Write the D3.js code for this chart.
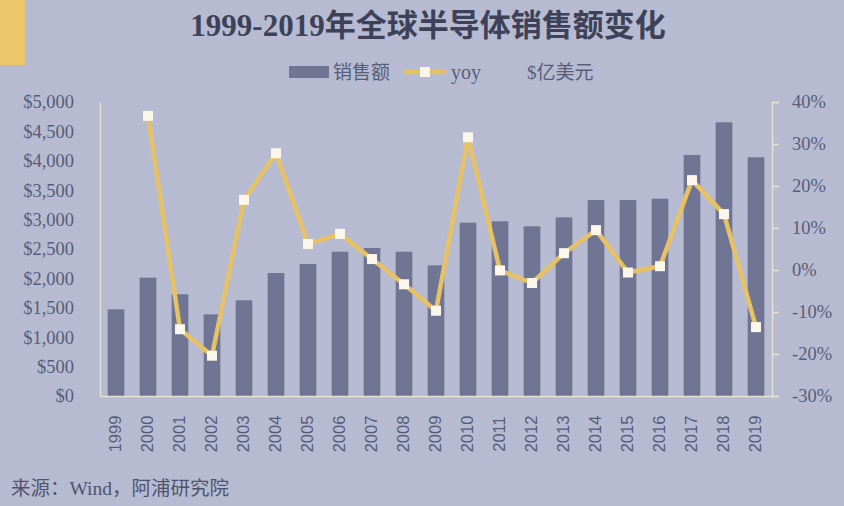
<!DOCTYPE html>
<html><head><meta charset="utf-8">
<script src="https://cdn.jsdelivr.net/npm/d3@7"></script>
<style>
html,body{margin:0;padding:0;background:#b6bbd1;}
svg{display:block;}
</style></head>
<body>
<svg id="chart" width="844" height="506"></svg>
<script>
const years = ["1999","2000","2001","2002","2003","2004","2005","2006","2007","2008","2009","2010","2011","2012","2013","2014","2015","2016","2017","2018","2019"];
const sales = [1474,2012,1730,1389,1628,2092,2245,2454,2517,2454,2222,2948,2971,2886,3039,3333,3333,3356,4099,4655,4060];
const yoy = [null,36.7,-14.1,-20.4,16.7,27.8,6.2,8.6,2.6,-3.4,-9.7,31.6,-0.1,-3.1,4.0,9.5,-0.6,0.9,21.4,13.3,-13.6];
const leftTicks = [0,500,1000,1500,2000,2500,3000,3500,4000,4500,5000];
const rightTicks = [-30,-20,-10,0,10,20,30,40];
const titleText = "1999-2019年全球半导体销售额变化";
const sourceText = "来源：Wind，阿浦研究院";

const svg = d3.select("#chart");
const W = 844, H = 506;
const x0 = 100, x1 = 772, yTop = 102, yBot = 396;
const txt = "#585d77";
const axisCol = "#e6e1d2";

svg.append("rect").attr("width",W).attr("height",H).attr("fill","#b6bbd1");
svg.append("rect").attr("x",0).attr("y",0).attr("width",25).attr("height",65).attr("fill","#ecc66a");

svg.append("text").attr("x",428).attr("y",36).attr("text-anchor","middle")
  .attr("font-family","'Liberation Serif','Noto Sans CJK SC',serif").attr("font-weight","bold")
  .attr("font-size",31).attr("fill","#3e4258").text(titleText);

const x = d3.scaleBand().domain(years).range([x0,x1]).paddingInner(0.48).paddingOuter(0.24);
const yL = d3.scaleLinear().domain([0,5000]).range([yBot,yTop]);
const yR = d3.scaleLinear().domain([-30,40]).range([yBot,yTop]);

// bars
svg.append("g").selectAll("rect").data(years).join("rect")
  .attr("x",d=>x(d)).attr("width",x.bandwidth())
  .attr("y",(d,i)=>yL(sales[i])).attr("height",(d,i)=>yBot-yL(sales[i]))
  .attr("fill","#6f7592");

// left axis
const gL = svg.append("g").attr("transform",`translate(${x0},0)`)
  .call(d3.axisLeft(yL).tickValues(leftTicks).tickSize(0).tickPadding(26).tickFormat(d=>"$"+d3.format(",")(d)));
gL.select(".domain").attr("stroke",axisCol).attr("stroke-width",1.5);
gL.selectAll("text").attr("font-family","'Liberation Serif',serif").attr("font-size",18.5).attr("fill",txt);

// right axis
const gR = svg.append("g").attr("transform",`translate(${x1},0)`)
  .call(d3.axisRight(yR).tickValues(rightTicks).tickSize(7).tickPadding(13).tickFormat(d=>d+"%"));
gR.select(".domain").attr("stroke",axisCol).attr("stroke-width",1.5);
gR.selectAll(".tick line").attr("stroke",axisCol).attr("stroke-width",1.5);
gR.selectAll("text").attr("font-family","'Liberation Serif',serif").attr("font-size",18.5).attr("fill",txt);

// bottom axis
const gB = svg.append("g").attr("transform",`translate(0,${yBot})`)
  .call(d3.axisBottom(x).tickSize(0).tickPadding(0));
gB.select(".domain").attr("stroke",axisCol).attr("stroke-width",1.5);
gB.selectAll(".tick text").attr("transform","translate(-1,38) rotate(-90)")
  .attr("text-anchor","middle").attr("dy","0.35em")
  .attr("font-family","'Liberation Sans',sans-serif").attr("font-size",16.5).attr("fill",txt);

// line
const pts = years.map((d,i)=>({d, v:yoy[i]})).filter(p=>p.v!==null);
const line = d3.line().x(p=>x(p.d)+x.bandwidth()/2).y(p=>yR(p.v));
svg.append("path").datum(pts).attr("d",line).attr("fill","none")
  .attr("stroke","#e6c265").attr("stroke-width",4.5).attr("stroke-linejoin","round");
svg.append("g").selectAll("rect").data(pts).join("rect")
  .attr("x",p=>x(p.d)+x.bandwidth()/2-5).attr("y",p=>yR(p.v)-5)
  .attr("width",10).attr("height",10).attr("fill","#fbf7ea");

// legend
const lg = svg.append("g");
lg.append("rect").attr("x",289).attr("y",66).attr("width",40).attr("height",12).attr("fill","#6f7592");
lg.append("text").attr("x",333).attr("y",79).attr("font-family","'Noto Sans CJK SC',sans-serif")
  .attr("font-size",19).attr("fill",txt).text("销售额");
lg.append("line").attr("x1",404).attr("x2",446).attr("y1",72).attr("y2",72).attr("stroke","#e6c265").attr("stroke-width",4.5);
lg.append("rect").attr("x",420).attr("y",67).attr("width",10).attr("height",10).attr("fill","#fbf7ea");
lg.append("text").attr("x",451).attr("y",79).attr("font-family","'Liberation Serif',serif")
  .attr("font-size",20).attr("fill",txt).text("yoy");
lg.append("text").attr("x",527).attr("y",79).attr("font-family","'Liberation Serif','Noto Sans CJK SC',serif")
  .attr("font-size",19).attr("fill",txt).text("$亿美元");

// source
svg.append("text").attr("x",11).attr("y",495).attr("font-family","'Liberation Serif','Noto Sans CJK SC',serif")
  .attr("font-size",19.5).attr("fill","#4f546c").text(sourceText);
</script>
</body></html>
